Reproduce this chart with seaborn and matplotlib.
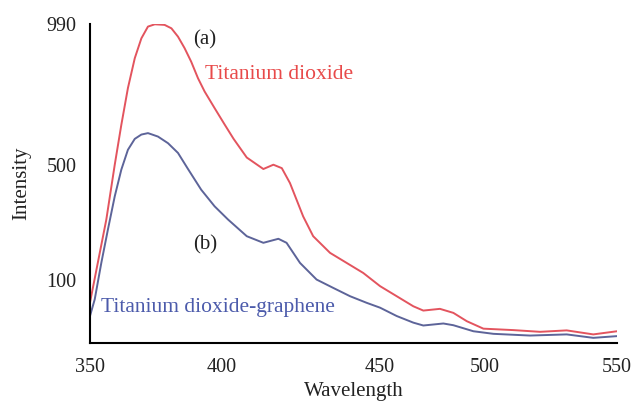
import numpy as np
import pandas as pd
import matplotlib
matplotlib.use("Agg")
import matplotlib.pyplot as plt
import seaborn as sns

# ---- data ----
tio2_wl = [350.0, 356.2, 359.4, 361.9, 364.4, 367.0, 369.5, 372.0, 374.6, 378.3,
           380.9, 383.4, 385.9, 388.4, 391.0, 393.5, 397.3, 401.1, 404.5, 409.5,
           415.8, 419.6, 422.8, 425.9, 428.4, 430.9, 434.7, 441.1, 447.4, 453.7,
           460.1, 466.4, 472.7, 476.5, 482.8, 487.9, 493.0, 499.3, 510.6, 520.8,
           530.9, 541.0, 550.0]
tio2_int = [20, 309, 500, 639, 767, 871, 940, 981, 989, 987,
            975, 946, 906, 859, 801, 755, 697, 640, 590, 525,
            485, 500, 488, 436, 378, 320, 251, 193, 158, 123,
            77, 42, 7, -8, -2, -16, -45, -71, -76, -82,
            -77, -91, -80]

tg_wl = [350.0, 351.8, 354.3, 356.8, 359.4, 361.9, 364.4, 367.0, 369.5, 372.0,
         373.3, 375.8, 379.6, 383.4, 387.2, 392.2, 397.3, 402.4, 409.5, 415.8,
         421.5, 424.6, 429.7, 436.0, 442.3, 448.7, 455.0, 460.1, 466.4, 472.7,
         476.5, 484.1, 487.9, 495.5, 503.1, 517.0, 530.9, 541.0, 550.0]
tg_int = [-27, 31, 158, 274, 390, 483, 552, 590, 605, 610,
          606, 598, 575, 541, 485, 413, 355, 309, 251, 228,
          242, 228, 158, 100, 71, 42, 19, 2, -27, -50,
          -60, -53, -59, -80, -89, -95, -91, -103, -97]

series_names = ["Titanium dioxide", "Titanium dioxide-graphene"]
x_tick_pos = [350, 400, 460, 500, 550]
x_tick_labels = ["350", "400", "450", "500", "550"]
y_tick_pos = [100, 500, 990]
y_tick_labels = ["100", "500", "990"]

df = pd.DataFrame({
    "Wavelength": tio2_wl + tg_wl,
    "Intensity": tio2_int + tg_int,
    "Sample": [series_names[0]] * len(tio2_wl) + [series_names[1]] * len(tg_wl),
})

sns.set_style("white")
plt.rcParams["font.family"] = ["Liberation Serif", "DejaVu Serif"]

red = "#e3545e"
blue = "#5d6499"

fig = plt.figure(figsize=(6.31, 4.07), dpi=100)
ax = fig.add_axes([0.1426, 0.1565, 0.8352, 0.7845])

sns.lineplot(data=df, x="Wavelength", y="Intensity", hue="Sample",
             palette={series_names[0]: red, series_names[1]: blue},
             linewidth=1.4, legend=False, ax=ax)

ax.set_xlim(350, 550)
ax.set_ylim(-122, 990)

for s in ["top", "right"]:
    ax.spines[s].set_visible(False)
for s in ["left", "bottom"]:
    ax.spines[s].set_color("black")
    ax.spines[s].set_linewidth(1.5)

ax.set_xticks(x_tick_pos)
ax.set_xticklabels(x_tick_labels)
ax.set_xticks([360, 380, 420, 440, 480, 520, 540], minor=True)
ax.set_yticks(y_tick_pos)
ax.set_yticklabels(y_tick_labels)
ymin = list(np.linspace(500, 990, 10)[1:-1]) + list(np.linspace(100, 500, 8)[1:-1]) \
    + list(np.linspace(-122, 100, 5)[:-1])
ax.set_yticks(ymin, minor=True)
ax.tick_params(axis="both", which="both", direction="out", length=3.5, width=1.2,
               color="black", labelsize=14.5, labelcolor="#222222")
ax.tick_params(axis="x", which="major", pad=7)
ax.tick_params(axis="y", which="major", pad=6)

ax.set_xlabel("Wavelength", fontsize=15, color="#222222", labelpad=4)
ax.set_ylabel("Intensity", fontsize=15, color="#222222", labelpad=11)

ax.text(389.1, 935, "(a)", fontsize=15, color="#222222", va="center", ha="left")
ax.text(393.5, 815, series_names[0], fontsize=15.5, color="#e84a4a", va="center", ha="left")
ax.text(389.1, 221, "(b)", fontsize=15, color="#222222", va="center", ha="left")
ax.text(354.3, 3, series_names[1], fontsize=15.5, color="#4c5bab", va="center", ha="left")

fig.savefig("out.png", dpi=100)
